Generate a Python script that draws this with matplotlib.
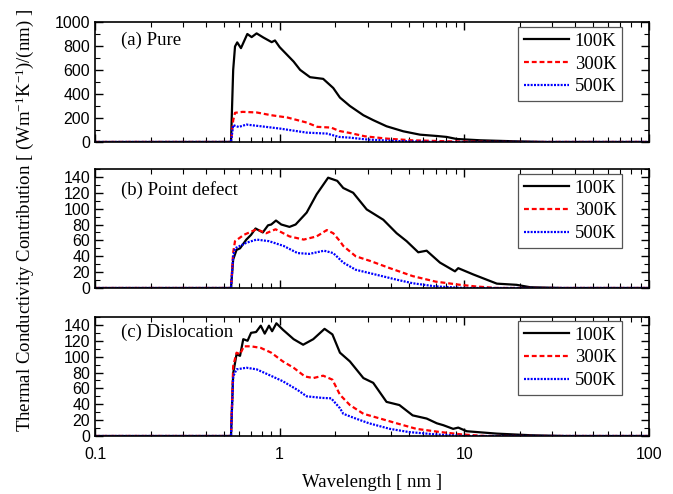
import numpy as np
import matplotlib
matplotlib.use('Agg')
import matplotlib.pyplot as plt
from matplotlib.font_manager import FontProperties
from matplotlib.ticker import LogLocator, MultipleLocator, FixedLocator

plt.rcParams['font.family'] = ['Liberation Serif', 'DejaVu Serif']
plt.rcParams['mathtext.fontset'] = 'custom'
plt.rcParams['mathtext.rm'] = 'Liberation Serif'
plt.rcParams['mathtext.it'] = 'Liberation Serif:italic'
plt.rcParams['mathtext.bf'] = 'Liberation Serif:bold'

# (a) Pure
a_x100 = [0.1, 0.545, 0.56, 0.573, 0.589, 0.617, 0.668, 0.705, 0.75, 0.815, 0.905, 0.943, 1.0, 1.19,
          1.29, 1.46, 1.72, 1.95, 2.12, 2.40, 2.84, 3.21, 3.79, 4.67, 5.75, 7.08, 8.02, 9.08,
          12.2, 18.4, 27.9, 100]
a_y100 = [0, 0, 600, 796, 830, 782, 900, 874, 905, 871, 832, 846, 790, 670,
          601, 540, 526, 450, 370, 300, 223, 182, 131, 89, 61, 50, 42, 25,
          14, 6, 0, 0]
a_x300 = [0.1, 0.545, 0.56, 0.573, 0.63, 0.75, 0.9, 1.1, 1.4, 1.6, 1.9, 2.1, 2.4, 2.9, 3.8, 5.2, 8.0, 15, 100]
a_y300 = [0, 0, 180, 243, 251, 246, 223, 204, 162, 126, 120, 92, 75, 47, 28, 14, 6, 0, 0]
a_x500 = [0.1, 0.545, 0.56, 0.6, 0.66, 0.8, 1.0, 1.4, 1.8, 2.1, 2.4, 3.0, 4.3, 7.0, 100]
a_y500 = [0, 0, 140, 125, 145, 130, 112, 78, 70, 42, 36, 20, 8, 0, 0]

# (b) Point defect
b_x100 = [0.1, 0.545, 0.56, 0.584, 0.61, 0.66, 0.70, 0.74, 0.81, 0.865, 0.9, 0.955, 1.02, 1.13,
          1.22, 1.40, 1.585, 1.83, 2.05, 2.21, 2.50, 2.96, 3.64, 4.30, 4.87, 5.63, 6.25, 7.38,
          8.9, 9.27, 11.2, 15.0, 19.2, 22.7, 34, 100]
b_y100 = [0, 0, 36, 48, 50, 61, 67, 75, 70, 79, 80, 85, 80, 77,
          80, 95, 118, 139, 135, 126, 120, 99, 86, 69, 59, 45, 47, 32,
          21, 25, 17, 5.5, 4, 1, 0, 0]
b_x300 = [0.1, 0.545, 0.56, 0.573, 0.64, 0.75, 0.845, 0.95, 1.13, 1.35, 1.585, 1.80, 1.95, 2.12,
          2.21, 2.58, 3.1, 3.95, 5.25, 7.0, 9.5, 11.5, 15, 100]
b_y300 = [0, 0, 45, 59, 67, 74, 69, 74, 65, 61, 65, 73, 69, 59,
          53, 40, 34, 25, 15, 8, 4, 2, 0, 0]
b_x500 = [0.1, 0.545, 0.56, 0.573, 0.66, 0.75, 0.875, 1.05, 1.25, 1.45, 1.74, 1.95, 2.12,
          2.21, 2.58, 3.3, 4.3, 5.25, 7.0, 10, 100]
b_y500 = [0, 0, 40, 50, 57, 61, 59, 53, 44, 43, 47, 44, 36,
          32, 23, 17, 10.5, 6, 2, 0, 0]

# (c) Dislocation
c_x100 = [0.1, 0.545, 0.56, 0.584, 0.61, 0.635, 0.67, 0.70, 0.745, 0.79, 0.83, 0.875, 0.91, 0.96,
          1.04, 1.19, 1.34, 1.52, 1.75, 1.93, 2.12, 2.40, 2.84, 3.21, 3.79, 4.45, 5.25, 6.25,
          7.1, 7.7, 8.7, 9.27, 10.3, 15, 22.7, 35, 100]
c_y100 = [0, 0, 79, 103, 101, 122, 120, 130, 131, 139, 129, 139, 132, 142,
          134, 122, 115, 122, 135, 128, 105, 94, 73, 67, 43, 39, 26, 22,
          16, 13.6, 9, 10.6, 6, 3, 1, 0, 0]
c_x300 = [0.1, 0.545, 0.56, 0.584, 0.61, 0.64, 0.70, 0.79, 0.9, 1.04, 1.19, 1.37, 1.52, 1.72,
          1.93, 2.12, 2.4, 2.84, 3.5, 4.3, 5.5, 7.4, 9.7, 13, 100]
c_y300 = [0, 0, 88, 105, 103, 113, 113, 111, 105, 94, 86, 75, 73, 76,
          71, 52, 39, 28, 22, 16, 9, 5, 2, 0, 0]
c_x500 = [0.1, 0.545, 0.56, 0.584, 0.66, 0.75, 0.875, 1.04, 1.25, 1.40, 1.70, 1.90, 2.12,
          2.21, 2.58, 3.05, 3.95, 5.0, 7.0, 10, 100]
c_y500 = [0, 0, 75, 84, 86, 84, 77, 69, 58, 50, 48, 47.5, 35,
          28, 22, 16, 9, 5, 2, 0, 0]

labels = ['100K', '300K', '500K']
titles = ['(a) Pure', '(b) Point defect', '(c) Dislocation']
x_ticks = [0.1, 1, 10, 100]
x_ticklabels = ['0.1', '1', '10', '100']

panels = [
    ([(a_x100, a_y100), (a_x300, a_y300), (a_x500, a_y500)], 1000, np.arange(0, 1001, 200), 100, (0.85, 0.958)),
    ([(b_x100, b_y100), (b_x300, b_y300), (b_x500, b_y500)], 150, np.arange(0, 141, 20), 10, (0.82, 0.958)),
    ([(c_x100, c_y100), (c_x300, c_y300), (c_x500, c_y500)], 150, np.arange(0, 141, 20), 10, (0.87, 0.966)),
]

serif = 'Liberation Serif'
sans = 'Liberation Sans'
leg_font = FontProperties(family=serif, size=13.5)

fig = plt.figure(figsize=(6.73, 4.94), dpi=100)
boxes = [[0.1412, 0.7126, 0.8231, 0.2429],
         [0.1412, 0.4170, 0.8231, 0.2410],
         [0.1412, 0.1174, 0.8231, 0.2410]]

styles = [dict(color='black', ls='-', lw=1.6),
          dict(color='red', ls=(0, (2.2, 1.3)), lw=1.6),
          dict(color='blue', ls=(0, (0.9, 0.6)), lw=1.6)]

for i, (series, ytop, yticks, ymin, (ty, ly)) in enumerate(panels):
    ax = fig.add_axes(boxes[i])
    for (x, y), st, lab in zip(series, styles, labels):
        ax.plot(x, y, label=lab, **st)
    ax.set_xscale('log')
    ax.set_xlim(0.1, 100)
    ax.set_ylim(0, ytop)
    ax.yaxis.set_major_locator(FixedLocator(yticks))
    ax.yaxis.set_minor_locator(MultipleLocator(ymin))
    ax.xaxis.set_minor_locator(LogLocator(base=10, subs=np.arange(2, 10), numticks=10))
    ax.set_xticks(x_ticks)
    ax.tick_params(which='both', direction='in', top=True, right=True, labelsize=11.5)
    ax.tick_params(which='major', length=6, width=1)
    ax.tick_params(which='minor', length=3.5, width=0.8)
    ax.tick_params(axis='x', pad=8)
    ax.set_yticklabels([str(int(v)) for v in yticks], family=sans, fontsize=11.5)
    for s in ax.spines.values():
        s.set_linewidth(1.2)
    if i < 2:
        ax.set_xticklabels([])
    else:
        ax.set_xticklabels(x_ticklabels, family=sans, fontsize=11.5)
    ax.text(0.047, ty, titles[i], transform=ax.transAxes, family=serif, fontsize=13.5,
            va='center', ha='left')
    leg = ax.legend(loc='upper right', bbox_to_anchor=(0.951, ly), borderaxespad=0,
                    fancybox=False, edgecolor='#555555', framealpha=1,
                    prop=leg_font, handlelength=2.4,
                    labelspacing=0.3, borderpad=0.3, handletextpad=0.3)
    leg.get_frame().set_linewidth(0.9)

fig.text(0.553, 0.024, 'Wavelength [ nm ]', family=serif, fontsize=13.5, ha='center', va='center')
fig.text(0.037, 0.553, 'Thermal Conductivity Contribution [ (Wm$^{-1}$K$^{-1}$)/(nm) ]',
         family=serif, fontsize=13.5, rotation=90, ha='center', va='center')

fig.savefig('out.png', dpi=100)
